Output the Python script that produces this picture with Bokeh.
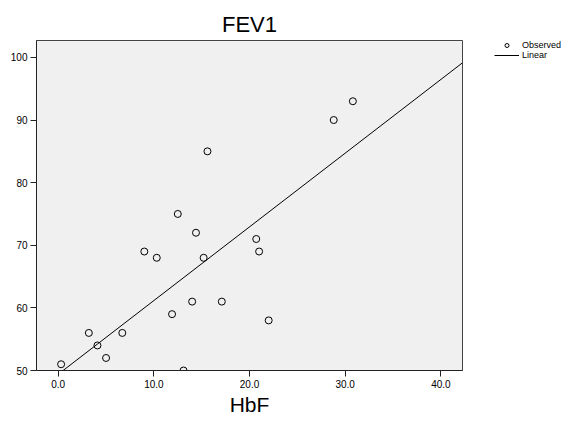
from bokeh.plotting import figure
from bokeh.layouts import row
from bokeh.models import FixedTicker, NumeralTickFormatter, Legend, LegendItem, Range1d
from bokeh.embed import file_html
from bokeh.resources import INLINE

# Observed data (HbF vs FEV1)
hbf = [0.3, 3.2, 4.1, 5.0, 6.7, 9.0, 10.3, 11.9, 12.5, 13.1,
       14.0, 14.4, 15.2, 15.6, 17.1, 20.7, 21.0, 22.0, 28.8, 30.8]
fev1 = [51, 56, 54, 52, 56, 69, 68, 59, 75, 50,
        61, 72, 68, 85, 61, 71, 69, 58, 90, 93]

# Linear fit: intercept, slope
fit_coef = [49.4, 1.177]
x_ticks = [0, 10, 20, 30, 40]
y_ticks = [50, 60, 70, 80, 90, 100]
legend_labels = ["Observed", "Linear"]

x_lo, x_hi = -2.27, 42.26
y_lo, y_hi = 50, 102.7

H = 418

p = figure(width=470, height=H, output_backend="svg", toolbar_location=None,
           x_range=Range1d(x_lo, x_hi), y_range=Range1d(y_lo, y_hi),
           min_border_left=36, min_border_right=8, min_border_top=40,
           min_border_bottom=46)

p.background_fill_color = "#f0f0f0"
p.border_fill_color = "white"
p.outline_line_color = "#444444"
p.outline_line_width = 1
p.grid.visible = False

p.title.text = "FEV1"
p.title.align = "center"
p.title.text_font = "Liberation Sans"
p.title.text_font_size = "22px"
p.title.text_font_style = "normal"
p.title.text_color = "black"
p.title.standoff = 7
p.title.offset = 0

for ax in (p.xaxis[0], p.yaxis[0]):
    ax.major_label_text_font = "Liberation Sans"
    ax.major_label_text_font_size = "10px"
    ax.major_label_text_color = "black"
    ax.major_tick_out = 6
    ax.major_tick_in = 0
    ax.minor_tick_out = 0
    ax.minor_tick_in = 0
    ax.axis_line_color = "#222222"
    ax.major_tick_line_color = "#222222"
    ax.major_label_standoff = 3

p.xaxis.ticker = FixedTicker(ticks=x_ticks)
p.yaxis.ticker = FixedTicker(ticks=y_ticks)
p.xaxis.formatter = NumeralTickFormatter(format="0.0")
p.xaxis.axis_label = "HbF"
p.xaxis.axis_label_text_font = "Liberation Sans"
p.xaxis.axis_label_text_font_size = "21px"
p.xaxis.axis_label_text_font_style = "normal"
p.xaxis.axis_label_text_color = "black"
p.xaxis.axis_label_standoff = 2

xs_fit = [x_lo, x_hi]
ys_fit = [fit_coef[0] + fit_coef[1] * x for x in xs_fit]

p.scatter(hbf, fev1, marker="circle", size=7, line_color="black",
          line_width=1, fill_alpha=0)
p.line(xs_fit, ys_fit, line_color="black", line_width=1)

# Legend panel to the right of the chart
lg = figure(width=95, height=H, output_backend="svg", toolbar_location=None,
            x_range=Range1d(0, 1), y_range=Range1d(0, 1),
            min_border_left=0, min_border_right=0, min_border_top=40,
            min_border_bottom=46)
lg.axis.visible = False
lg.grid.visible = False
lg.outline_line_color = None
lg.background_fill_color = "white"
lg.border_fill_color = "white"
nan = float("nan")
obs_key = lg.scatter(x=[nan], y=[nan], marker="circle", size=7,
                     line_color="black", line_width=1, fill_alpha=0)
lin_key = lg.line(x=[nan, nan], y=[nan, nan], line_color="black", line_width=1)

legend = Legend(items=[LegendItem(label=legend_labels[0], renderers=[obs_key]),
                       LegendItem(label=legend_labels[1], renderers=[lin_key])],
                location=(24, 310), orientation="vertical")
legend.label_text_font = "Liberation Sans"
legend.label_text_font_size = "9px"
legend.label_text_color = "black"
legend.label_standoff = 3
legend.glyph_width = 25
legend.glyph_height = 10
legend.label_height = 10
legend.spacing = 0
legend.padding = 0
legend.margin = 0
legend.border_line_color = None
legend.background_fill_alpha = 0
lg.add_layout(legend)

layout = row(p, lg, spacing=0)
open("out.html", "w").write(file_html(layout, INLINE))
